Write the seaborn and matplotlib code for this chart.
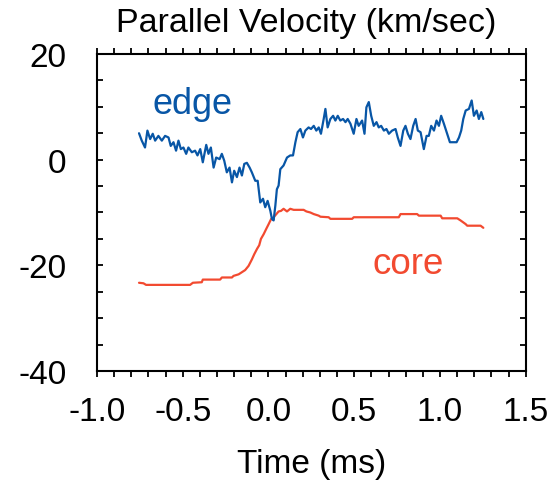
import numpy as np
import pandas as pd
import matplotlib
matplotlib.use("Agg")
import matplotlib.pyplot as plt
import seaborn as sns
from matplotlib.ticker import MultipleLocator, FuncFormatter

sns.set_style("ticks")
plt.rcParams['font.family'] = ['Liberation Sans', 'DejaVu Sans']
plt.rcParams['text.color'] = 'black'
plt.rcParams['axes.labelcolor'] = 'black'
plt.rcParams['xtick.color'] = 'black'
plt.rcParams['ytick.color'] = 'black'

# edge (blue) trace
edge_t = [-0.755, -0.739, -0.720, -0.706, -0.690, -0.675, -0.661, -0.642, -0.622, -0.603,
          -0.583, -0.570, -0.554, -0.539, -0.525, -0.511, -0.496, -0.480, -0.467, -0.447,
          -0.428, -0.414, -0.398, -0.383, -0.363, -0.350, -0.336, -0.320, -0.305, -0.285,
          -0.272, -0.258, -0.243, -0.227, -0.213, -0.200, -0.184, -0.169, -0.155, -0.141,
          -0.126, -0.110, -0.097, -0.077, -0.063, -0.048, -0.032, -0.019, -0.005, 0.011,
          0.020, 0.030, 0.040, 0.049, 0.059, 0.069, 0.088, 0.108, 0.127, 0.143,
          0.157, 0.170, 0.186, 0.201, 0.215, 0.234, 0.248, 0.264, 0.279, 0.293,
          0.306, 0.322, 0.332, 0.345, 0.361, 0.377, 0.390, 0.404, 0.419, 0.435,
          0.449, 0.462, 0.478, 0.497, 0.513, 0.526, 0.546, 0.560, 0.571, 0.585,
          0.599, 0.614, 0.630, 0.643, 0.657, 0.673, 0.688, 0.702, 0.721, 0.741,
          0.754, 0.770, 0.786, 0.799, 0.813, 0.828, 0.844, 0.858, 0.871, 0.887,
          0.906, 0.922, 0.935, 0.949, 0.965, 0.980, 0.994, 1.007, 1.023, 1.039,
          1.058, 1.081, 1.097, 1.111, 1.124, 1.136, 1.150, 1.169, 1.185, 1.198,
          1.214, 1.227, 1.241, 1.253]
edge_v = [5.0, 3.6, 2.3, 5.5, 3.9, 4.9, 3.6, 4.5, 3.6, 4.5,
          4.2, 2.6, 3.3, 1.7, 3.6, 2.0, 2.3, 1.1, 2.3, 1.4,
          1.7, 0.8, 2.0, -0.5, 2.8, 1.1, 2.3, -1.5, 0.4, 0.1,
          1.1, -0.2, -2.4, -1.5, -4.3, -2.1, -3.3, -1.5, -3.0, -0.8,
          -0.6, -1.5, -2.4, -4.0, -4.0, -8.1, -7.4, -9.0, -7.8, -9.7,
          -11.2, -11.5, -8.7, -5.6, -4.9, -1.8, -1.1, 0.4, 0.8, 0.8,
          3.3, 5.2, 5.8, 4.2, 5.5, 6.1, 5.8, 6.4, 5.5, 6.1,
          4.9, 7.7, 9.6, 6.1, 7.7, 8.3, 7.4, 8.3, 7.4, 7.7,
          7.1, 7.7, 6.8, 4.9, 7.7, 6.4, 7.4, 4.9, 9.9, 10.9,
          8.3, 6.4, 7.1, 6.1, 6.4, 5.5, 5.8, 4.9, 5.5, 5.8,
          4.2, 2.6, 5.5, 6.4, 4.9, 3.9, 6.4, 7.7, 5.5, 5.2,
          2.0, 4.5, 4.5, 6.4, 5.5, 7.4, 6.4, 8.3, 6.8, 5.2,
          3.3, 3.3, 3.3, 4.2, 5.5, 7.7, 9.3, 9.6, 11.2, 8.3,
          9.3, 7.7, 9.0, 7.7]

# core (red) trace
core_t = [-0.755, -0.729, -0.714, -0.457, -0.441, -0.389, -0.383, -0.282, -0.272, -0.213,
          -0.204, -0.174, -0.155, -0.136, -0.116, -0.097, -0.083, -0.067, -0.054, -0.044,
          -0.028, -0.013, 0.001, 0.016, 0.030, 0.046, 0.059, 0.073, 0.088, 0.108,
          0.127, 0.147, 0.205, 0.221, 0.244, 0.264, 0.293, 0.303, 0.351, 0.361,
          0.488, 0.497, 0.760, 0.770, 0.867, 0.877, 1.004, 1.013, 1.101, 1.120,
          1.150, 1.159, 1.237, 1.253]
core_v = [-23.3, -23.4, -23.7, -23.7, -23.3, -23.2, -22.7, -22.7, -22.3, -22.3,
          -22.0, -21.7, -21.3, -20.9, -20.1, -18.9, -17.9, -16.9, -16.2, -15.0,
          -14.1, -13.1, -12.2, -11.2, -10.9, -10.3, -9.8, -9.7, -9.3, -9.8,
          -9.3, -9.5, -9.5, -9.8, -10.0, -10.3, -10.6, -10.8, -10.9, -11.2,
          -11.2, -10.9, -10.9, -10.3, -10.3, -10.6, -10.6, -11.1, -11.1, -11.5,
          -12.2, -12.5, -12.5, -12.9]

blue = "#0856a6"
red = "#f24a30"

df_edge = pd.DataFrame({"Time": edge_t, "Velocity": edge_v})
df_core = pd.DataFrame({"Time": core_t, "Velocity": core_v})

fig = plt.figure(figsize=(5.54, 4.81), dpi=100)
ax = fig.add_axes([0.1751, 0.2266, 0.7738, 0.6591])

sns.lineplot(data=df_core, x="Time", y="Velocity", color=red, linewidth=1.6, ax=ax)
sns.lineplot(data=df_edge, x="Time", y="Velocity", color=blue, linewidth=1.6, ax=ax)

ax.set_xlim(-1.0, 1.5)
ax.set_ylim(-40, 20)
ax.xaxis.set_major_locator(MultipleLocator(0.5))
ax.xaxis.set_minor_locator(MultipleLocator(0.1))
ax.yaxis.set_major_locator(MultipleLocator(20))
ax.yaxis.set_minor_locator(MultipleLocator(5))
ax.xaxis.set_major_formatter(FuncFormatter(lambda v, p: f"{v:.1f}"))
ax.yaxis.set_major_formatter(FuncFormatter(lambda v, p: f"{v:.0f}"))

for s in ax.spines.values():
    s.set_linewidth(1.5)
    s.set_color("black")
ax.tick_params(axis="x", which="both", direction="out", top=True, bottom=True,
               length=4, width=1.3, labelsize=24, pad=14)
ax.tick_params(axis="y", which="both", direction="in", left=True, right=True,
               length=4, width=1.3, labelsize=24, pad=22)

ax.set_xlabel("Time (ms)", fontsize=24, labelpad=15)
ax.set_ylabel("")
fig.text(0.552, 0.952, "Parallel Velocity (km/sec)", fontsize=24.5, ha="center", va="center")

ax.text(-0.445, 10.7, "edge", color=blue, fontsize=26, ha="center", va="center")
ax.text(0.817, -19.7, "core", color=red, fontsize=26.5, ha="center", va="center")

fig.savefig("out.png", dpi=100)
